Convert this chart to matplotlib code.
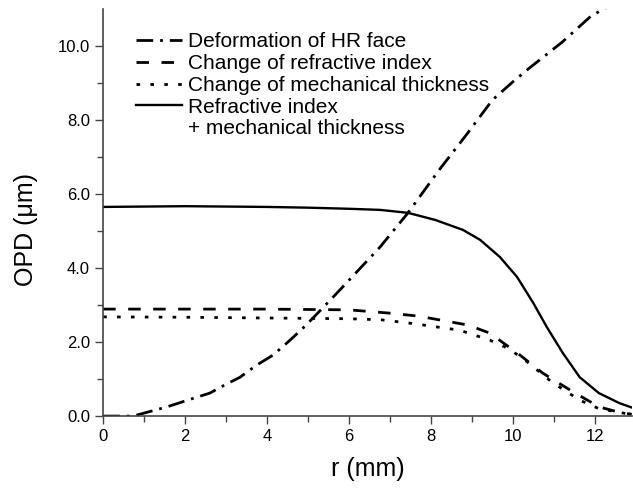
import numpy as np
import matplotlib.pyplot as plt
from matplotlib.lines import Line2D
from matplotlib.ticker import FormatStrFormatter

plt.rcParams['font.family'] = ['Liberation Sans', 'DejaVu Sans']

# deformation of HR face
r_def = [0, 0.73, 1.56, 2.2, 2.6, 3.0, 3.34, 3.75, 4.15, 4.56, 4.88, 5.12, 5.6, 6.0,
         6.76, 7.44, 8.2, 8.9, 9.5, 10.0, 10.4, 11.2, 11.9, 12.3]
opd_def = [0, 0.0, 0.25, 0.48, 0.62, 0.86, 1.05, 1.38, 1.65, 2.05, 2.38, 2.65, 3.2, 3.67,
           4.57, 5.49, 6.65, 7.65, 8.54, 9.03, 9.4, 10.1, 10.8, 11.05]

# change of refractive index
r_ri = [0, 2, 4, 6, 7, 7.7, 8.9, 9.44, 10.17, 10.73, 11.4, 12.1, 12.6, 12.9]
opd_ri = [2.89, 2.89, 2.89, 2.87, 2.78, 2.7, 2.46, 2.24, 1.65, 1.16, 0.7, 0.25, 0.1, 0.05]

# change of mechanical thickness
r_mt = [0, 2, 4, 6, 6.8, 7.56, 8.7, 9.44, 9.8, 10.2, 10.95, 11.63, 12.1, 12.9]
opd_mt = [2.68, 2.67, 2.65, 2.63, 2.6, 2.5, 2.32, 2.05, 1.87, 1.6, 0.92, 0.43, 0.2, 0.04]

# refractive index + mechanical thickness
r_sum = [0, 2, 4, 5, 6, 6.76, 7.44, 8.1, 8.78, 9.2, 9.68, 10.1, 10.5, 10.83, 11.22,
         11.63, 12.1, 12.6, 12.93]
opd_sum = [5.65, 5.67, 5.65, 5.63, 5.6, 5.57, 5.49, 5.3, 5.03, 4.76, 4.3, 3.76, 3.05, 2.4,
           1.7, 1.05, 0.62, 0.35, 0.22]

fig = plt.figure(figsize=(6.33, 4.93), dpi=100)
ax = fig.add_axes([0.163, 0.156, 0.835, 0.826])

l1, = ax.plot(r_def, opd_def, color='k', lw=2, dashes=(6, 2.5, 1, 2.5))
l2, = ax.plot(r_ri, opd_ri, color='k', lw=2, dashes=(4.5, 4.5))
l3, = ax.plot(r_mt, opd_mt, color='k', lw=2, dashes=(1.3, 3.7))
l4, = ax.plot(r_sum, opd_sum, color='k', lw=1.7)

ax.set_xlim(0, 12.9)
ax.set_ylim(0, 11)
ax.set_xticks([0, 2, 4, 6, 8, 10, 12])
ax.set_xticks([1, 3, 5, 7, 9, 11], minor=True)
ax.set_yticks([0, 2, 4, 6, 8, 10])
ax.set_yticks([1, 3, 5, 7, 9], minor=True)
ax.yaxis.set_major_formatter(FormatStrFormatter('%.1f'))
ax.tick_params(which='major', length=6, width=1, labelsize=12, color='#444444')
ax.tick_params(which='minor', length=4, width=1, color='#444444')
ax.spines['top'].set_visible(False)
ax.spines['right'].set_visible(False)
for s in ['left', 'bottom']:
    ax.spines[s].set_color('#444444')
    ax.spines[s].set_linewidth(1.2)

ax.set_xlabel('r (mm)', fontsize=18)
ax.set_ylabel('OPD (\u03bcm)', fontsize=18)
ax.xaxis.set_label_coords(0.5, -0.10)
ax.yaxis.set_label_coords(-0.123, 0.457)

blank = Line2D([], [], color='none')
ax.legend([l1, l2, l3, l4, blank],
          ['Deformation of HR face', 'Change of refractive index',
           'Change of mechanical thickness', 'Refractive index',
           '+ mechanical thickness'],
          loc='upper left', bbox_to_anchor=(0.035, 0.978), frameon=False,
          fontsize=15, handlelength=2.2, handletextpad=0.3,
          labelspacing=0.13, borderaxespad=0.3)

plt.savefig('out.png', dpi=100)
